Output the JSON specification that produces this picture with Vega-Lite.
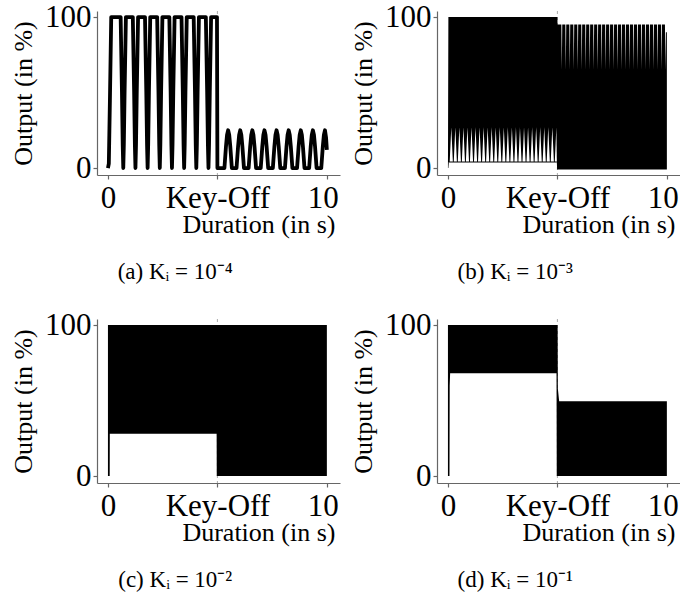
{
"$schema": "https://vega.github.io/schema/vega-lite/v6.json",
"background": "white",
"padding": {"left": 10, "top": 1, "right": 0, "bottom": 0},
"datasets": {
"a": [
{"t":0,"v":0},{"t":0.04,"v":3},{"t":0.09,"v":45},{"t":0.15,"v":100},
{"t":0.58,"v":100},{"t":0.64,"v":50},{"t":0.675,"v":15},{"t":0.70,"v":0},{"t":0.725,"v":15},{"t":0.76,"v":50},{"t":0.82,"v":100},
{"t":1.136,"v":100},{"t":1.196,"v":50},{"t":1.231,"v":15},{"t":1.256,"v":0},{"t":1.281,"v":15},{"t":1.316,"v":50},{"t":1.376,"v":100},
{"t":1.692,"v":100},{"t":1.752,"v":50},{"t":1.787,"v":15},{"t":1.812,"v":0},{"t":1.837,"v":15},{"t":1.872,"v":50},{"t":1.932,"v":100},
{"t":2.248,"v":100},{"t":2.308,"v":50},{"t":2.343,"v":15},{"t":2.368,"v":0},{"t":2.393,"v":15},{"t":2.428,"v":50},{"t":2.488,"v":100},
{"t":2.804,"v":100},{"t":2.864,"v":50},{"t":2.899,"v":15},{"t":2.924,"v":0},{"t":2.949,"v":15},{"t":2.984,"v":50},{"t":3.044,"v":100},
{"t":3.36,"v":100},{"t":3.42,"v":50},{"t":3.455,"v":15},{"t":3.48,"v":0},{"t":3.505,"v":15},{"t":3.54,"v":50},{"t":3.60,"v":100},
{"t":3.916,"v":100},{"t":3.976,"v":50},{"t":4.011,"v":15},{"t":4.036,"v":0},{"t":4.061,"v":15},{"t":4.096,"v":50},{"t":4.156,"v":100},
{"t":4.472,"v":100},{"t":4.532,"v":50},{"t":4.567,"v":15},{"t":4.592,"v":0},{"t":4.617,"v":15},{"t":4.652,"v":50},{"t":4.712,"v":100},
{"t":4.98,"v":100},{"t":5.0,"v":0},
{"t":5.32,"v":0},{"t":5.39,"v":14},{"t":5.44,"v":22},{"t":5.49,"v":25},{"t":5.54,"v":22},{"t":5.59,"v":14},{"t":5.66,"v":0},
{"t":5.873,"v":0},{"t":5.943,"v":14},{"t":5.993,"v":22},{"t":6.043,"v":25},{"t":6.093,"v":22},{"t":6.143,"v":14},{"t":6.213,"v":0},
{"t":6.426,"v":0},{"t":6.496,"v":14},{"t":6.546,"v":22},{"t":6.596,"v":25},{"t":6.646,"v":22},{"t":6.696,"v":14},{"t":6.766,"v":0},
{"t":6.979,"v":0},{"t":7.049,"v":14},{"t":7.099,"v":22},{"t":7.149,"v":25},{"t":7.199,"v":22},{"t":7.249,"v":14},{"t":7.319,"v":0},
{"t":7.532,"v":0},{"t":7.602,"v":14},{"t":7.652,"v":22},{"t":7.702,"v":25},{"t":7.752,"v":22},{"t":7.802,"v":14},{"t":7.872,"v":0},
{"t":8.085,"v":0},{"t":8.155,"v":14},{"t":8.205,"v":22},{"t":8.255,"v":25},{"t":8.305,"v":22},{"t":8.355,"v":14},{"t":8.425,"v":0},
{"t":8.638,"v":0},{"t":8.708,"v":14},{"t":8.758,"v":22},{"t":8.808,"v":25},{"t":8.858,"v":22},{"t":8.908,"v":14},{"t":8.978,"v":0},
{"t":9.191,"v":0},{"t":9.261,"v":14},{"t":9.311,"v":22},{"t":9.361,"v":25},{"t":9.411,"v":22},{"t":9.461,"v":14},{"t":9.531,"v":0},
{"t":9.744,"v":0},{"t":9.814,"v":14},{"t":9.864,"v":22},{"t":9.914,"v":25},{"t":9.964,"v":20},{"t":10.0,"v":12}
],
"b": [
{"t":0,"lo":0,"hi":1},{"t":0.02,"lo":0,"hi":100},{"t":0.04,"lo":4,"hi":100},{"t":0.08,"lo":4,"hi":100},{"t":0.152,"lo":27,"hi":100},
{"t":0.225,"lo":4,"hi":100},{"t":0.265,"lo":4,"hi":100},{"t":0.337,"lo":27,"hi":100},
{"t":0.409,"lo":4,"hi":100},{"t":0.449,"lo":4,"hi":100},{"t":0.521,"lo":27,"hi":100},
{"t":0.594,"lo":4,"hi":100},{"t":0.634,"lo":4,"hi":100},{"t":0.706,"lo":27,"hi":100},
{"t":0.778,"lo":4,"hi":100},{"t":0.818,"lo":4,"hi":100},{"t":0.890,"lo":27,"hi":100},
{"t":0.963,"lo":4,"hi":100},{"t":1.003,"lo":4,"hi":100},{"t":1.075,"lo":27,"hi":100},
{"t":1.148,"lo":4,"hi":100},{"t":1.188,"lo":4,"hi":100},{"t":1.260,"lo":27,"hi":100},
{"t":1.332,"lo":4,"hi":100},{"t":1.372,"lo":4,"hi":100},{"t":1.444,"lo":27,"hi":100},
{"t":1.517,"lo":4,"hi":100},{"t":1.557,"lo":4,"hi":100},{"t":1.629,"lo":27,"hi":100},
{"t":1.701,"lo":4,"hi":100},{"t":1.741,"lo":4,"hi":100},{"t":1.813,"lo":27,"hi":100},
{"t":1.886,"lo":4,"hi":100},{"t":1.926,"lo":4,"hi":100},{"t":1.998,"lo":27,"hi":100},
{"t":2.071,"lo":4,"hi":100},{"t":2.111,"lo":4,"hi":100},{"t":2.183,"lo":27,"hi":100},
{"t":2.255,"lo":4,"hi":100},{"t":2.295,"lo":4,"hi":100},{"t":2.367,"lo":27,"hi":100},
{"t":2.440,"lo":4,"hi":100},{"t":2.480,"lo":4,"hi":100},{"t":2.552,"lo":27,"hi":100},
{"t":2.624,"lo":4,"hi":100},{"t":2.664,"lo":4,"hi":100},{"t":2.736,"lo":27,"hi":100},
{"t":2.809,"lo":4,"hi":100},{"t":2.849,"lo":4,"hi":100},{"t":2.921,"lo":27,"hi":100},
{"t":2.994,"lo":4,"hi":100},{"t":3.034,"lo":4,"hi":100},{"t":3.106,"lo":27,"hi":100},
{"t":3.178,"lo":4,"hi":100},{"t":3.218,"lo":4,"hi":100},{"t":3.290,"lo":27,"hi":100},
{"t":3.363,"lo":4,"hi":100},{"t":3.403,"lo":4,"hi":100},{"t":3.475,"lo":27,"hi":100},
{"t":3.547,"lo":4,"hi":100},{"t":3.587,"lo":4,"hi":100},{"t":3.659,"lo":27,"hi":100},
{"t":3.732,"lo":4,"hi":100},{"t":3.772,"lo":4,"hi":100},{"t":3.844,"lo":27,"hi":100},
{"t":3.917,"lo":4,"hi":100},{"t":3.957,"lo":4,"hi":100},{"t":4.029,"lo":27,"hi":100},
{"t":4.101,"lo":4,"hi":100},{"t":4.141,"lo":4,"hi":100},{"t":4.213,"lo":27,"hi":100},
{"t":4.286,"lo":4,"hi":100},{"t":4.326,"lo":4,"hi":100},{"t":4.398,"lo":27,"hi":100},
{"t":4.470,"lo":4,"hi":100},{"t":4.510,"lo":4,"hi":100},{"t":4.582,"lo":27,"hi":100},
{"t":4.655,"lo":4,"hi":100},{"t":4.695,"lo":4,"hi":100},{"t":4.767,"lo":27,"hi":100},
{"t":4.840,"lo":4,"hi":100},{"t":4.880,"lo":4,"hi":100},{"t":4.952,"lo":27,"hi":100},
{"t":4.975,"lo":4,"hi":100},{"t":4.985,"lo":-1,"hi":100},{"t":5.0,"lo":-1,"hi":100},{"t":5.005,"lo":-1,"hi":95},
{"t":5.040,"lo":-1,"hi":95},{"t":5.180,"lo":-1,"hi":95},{"t":5.201,"lo":-1,"hi":65},
{"t":5.222,"lo":-1,"hi":95},{"t":5.362,"lo":-1,"hi":95},{"t":5.383,"lo":-1,"hi":65},
{"t":5.404,"lo":-1,"hi":95},{"t":5.544,"lo":-1,"hi":95},{"t":5.565,"lo":-1,"hi":65},
{"t":5.586,"lo":-1,"hi":95},{"t":5.726,"lo":-1,"hi":95},{"t":5.747,"lo":-1,"hi":65},
{"t":5.768,"lo":-1,"hi":95},{"t":5.908,"lo":-1,"hi":95},{"t":5.929,"lo":-1,"hi":65},
{"t":5.950,"lo":-1,"hi":95},{"t":6.090,"lo":-1,"hi":95},{"t":6.111,"lo":-1,"hi":65},
{"t":6.132,"lo":-1,"hi":95},{"t":6.272,"lo":-1,"hi":95},{"t":6.293,"lo":-1,"hi":65},
{"t":6.314,"lo":-1,"hi":95},{"t":6.454,"lo":-1,"hi":95},{"t":6.475,"lo":-1,"hi":65},
{"t":6.496,"lo":-1,"hi":95},{"t":6.636,"lo":-1,"hi":95},{"t":6.657,"lo":-1,"hi":65},
{"t":6.678,"lo":-1,"hi":95},{"t":6.818,"lo":-1,"hi":95},{"t":6.839,"lo":-1,"hi":65},
{"t":6.860,"lo":-1,"hi":95},{"t":7.000,"lo":-1,"hi":95},{"t":7.021,"lo":-1,"hi":65},
{"t":7.042,"lo":-1,"hi":95},{"t":7.182,"lo":-1,"hi":95},{"t":7.203,"lo":-1,"hi":65},
{"t":7.224,"lo":-1,"hi":95},{"t":7.364,"lo":-1,"hi":95},{"t":7.385,"lo":-1,"hi":65},
{"t":7.406,"lo":-1,"hi":95},{"t":7.546,"lo":-1,"hi":95},{"t":7.567,"lo":-1,"hi":65},
{"t":7.588,"lo":-1,"hi":95},{"t":7.728,"lo":-1,"hi":95},{"t":7.749,"lo":-1,"hi":65},
{"t":7.770,"lo":-1,"hi":95},{"t":7.910,"lo":-1,"hi":95},{"t":7.931,"lo":-1,"hi":65},
{"t":7.952,"lo":-1,"hi":95},{"t":8.092,"lo":-1,"hi":95},{"t":8.113,"lo":-1,"hi":65},
{"t":8.134,"lo":-1,"hi":95},{"t":8.274,"lo":-1,"hi":95},{"t":8.295,"lo":-1,"hi":65},
{"t":8.316,"lo":-1,"hi":95},{"t":8.456,"lo":-1,"hi":95},{"t":8.477,"lo":-1,"hi":65},
{"t":8.498,"lo":-1,"hi":95},{"t":8.638,"lo":-1,"hi":95},{"t":8.659,"lo":-1,"hi":65},
{"t":8.680,"lo":-1,"hi":95},{"t":8.820,"lo":-1,"hi":95},{"t":8.841,"lo":-1,"hi":65},
{"t":8.862,"lo":-1,"hi":95},{"t":9.002,"lo":-1,"hi":95},{"t":9.023,"lo":-1,"hi":65},
{"t":9.044,"lo":-1,"hi":95},{"t":9.184,"lo":-1,"hi":95},{"t":9.205,"lo":-1,"hi":65},
{"t":9.226,"lo":-1,"hi":95},{"t":9.366,"lo":-1,"hi":95},{"t":9.387,"lo":-1,"hi":65},
{"t":9.408,"lo":-1,"hi":95},{"t":9.548,"lo":-1,"hi":95},{"t":9.569,"lo":-1,"hi":65},
{"t":9.590,"lo":-1,"hi":95},{"t":9.730,"lo":-1,"hi":95},{"t":9.751,"lo":-1,"hi":65},
{"t":9.772,"lo":-1,"hi":95},{"t":9.912,"lo":-1,"hi":95},{"t":9.933,"lo":-1,"hi":65},
{"t":9.955,"lo":-1,"hi":90},{"t":10.0,"lo":-1,"hi":90}
],
"bbase": [{"t":0.04,"v":4},{"t":4.975,"v":4}],
"c": [
{"t":0,"lo":0,"hi":100},{"t":0.08,"lo":0,"hi":100},{"t":0.085,"lo":28,"hi":100},
{"t":4.965,"lo":28,"hi":100},{"t":4.97,"lo":0,"hi":100},{"t":10.0,"lo":0,"hi":100}
],
"d": [
{"t":0,"lo":0,"hi":100},{"t":0.07,"lo":0,"hi":100},{"t":0.08,"lo":60,"hi":100},{"t":0.1,"lo":68,"hi":100},
{"t":4.96,"lo":68,"hi":100},{"t":4.97,"lo":0,"hi":100},{"t":5.01,"lo":0,"hi":100},{"t":5.02,"lo":0,"hi":58},
{"t":5.08,"lo":0,"hi":49.5},{"t":10.0,"lo":0,"hi":49.5}
]
},
"columns": 2,
"spacing": {"row": 25, "column": 10},
"concat": [
{
"width": 243, "height": 164,
"title": {"text": "(a) Kᵢ = 10⁻⁴"},
"encoding": {"x": {"field": "t", "type": "quantitative", "scale": {"domain": [-0.5, 10.6], "nice": false, "zero": false}, "axis": {"values": [0, 5, 10], "labelExpr": "datum.value == 5 ? 'Key-Off' : datum.label", "title": "Duration (in s)"}}},
"layer": [
{"data": {"values": [{"t": 5}]}, "mark": {"type": "rule", "color": "#aaaaaa", "strokeDash": [3, 3], "strokeWidth": 1}, "encoding": {"x": {"field": "t", "type": "quantitative"}}},
{"data": {"name": "a"}, "mark": {"type": "line", "color": "black", "strokeWidth": 3.8, "strokeJoin": "round"}, "encoding": {"y": {"field": "v", "type": "quantitative", "scale": {"domain": [-4.6, 104], "nice": false, "zero": false}, "axis": {"values": [0, 100], "title": "Output (in %)"}}}}
]
},
{
"width": 243, "height": 164,
"title": {"text": "(b) Kᵢ = 10⁻³"},
"encoding": {"x": {"field": "t", "type": "quantitative", "scale": {"domain": [-0.5, 10.6], "nice": false, "zero": false}, "axis": {"values": [0, 5, 10], "labelExpr": "datum.value == 5 ? 'Key-Off' : datum.label", "title": "Duration (in s)"}}},
"layer": [
{"data": {"values": [{"t": 5}]}, "mark": {"type": "rule", "color": "#aaaaaa", "strokeDash": [3, 3], "strokeWidth": 1}, "encoding": {"x": {"field": "t", "type": "quantitative"}}},
{"data": {"name": "b"}, "mark": {"type": "area", "color": "black"}, "encoding": {"y": {"field": "lo", "type": "quantitative", "scale": {"domain": [-4.6, 104], "nice": false, "zero": false}, "axis": {"values": [0, 100], "title": "Output (in %)"}}, "y2": {"field": "hi"}}},
{"data": {"name": "bbase"}, "mark": {"type": "line", "color": "black", "strokeWidth": 1.2}, "encoding": {"y": {"field": "v", "type": "quantitative"}}}
]
},
{
"width": 243, "height": 164,
"title": {"text": "(c) Kᵢ = 10⁻²"},
"encoding": {"x": {"field": "t", "type": "quantitative", "scale": {"domain": [-0.5, 10.6], "nice": false, "zero": false}, "axis": {"values": [0, 5, 10], "labelExpr": "datum.value == 5 ? 'Key-Off' : datum.label", "title": "Duration (in s)"}}},
"layer": [
{"data": {"values": [{"t": 5}]}, "mark": {"type": "rule", "color": "#aaaaaa", "strokeDash": [3, 3], "strokeWidth": 1}, "encoding": {"x": {"field": "t", "type": "quantitative"}}},
{"data": {"name": "c"}, "mark": {"type": "area", "color": "black"}, "encoding": {"y": {"field": "lo", "type": "quantitative", "scale": {"domain": [-4.6, 104], "nice": false, "zero": false}, "axis": {"values": [0, 100], "title": "Output (in %)"}}, "y2": {"field": "hi"}}}
]
},
{
"width": 243, "height": 164,
"title": {"text": "(d) Kᵢ = 10⁻¹"},
"encoding": {"x": {"field": "t", "type": "quantitative", "scale": {"domain": [-0.5, 10.6], "nice": false, "zero": false}, "axis": {"values": [0, 5, 10], "labelExpr": "datum.value == 5 ? 'Key-Off' : datum.label", "title": "Duration (in s)"}}},
"layer": [
{"data": {"values": [{"t": 5}]}, "mark": {"type": "rule", "color": "#aaaaaa", "strokeDash": [3, 3], "strokeWidth": 1}, "encoding": {"x": {"field": "t", "type": "quantitative"}}},
{"data": {"name": "d"}, "mark": {"type": "area", "color": "black"}, "encoding": {"y": {"field": "lo", "type": "quantitative", "scale": {"domain": [-4.6, 104], "nice": false, "zero": false}, "axis": {"values": [0, 100], "title": "Output (in %)"}}, "y2": {"field": "hi"}}}
]
}
],
"config": {
"view": {"stroke": null},
"font": "Liberation Serif",
"axis": {"grid": false, "domainColor": "#666666", "domainWidth": 1.2, "tickColor": "#666666", "tickWidth": 1.2, "tickSize": 4, "labelFont": "Liberation Serif", "labelFontSize": 31, "labelColor": "black", "labelOverlap": false, "labelFlush": false, "titleFont": "Liberation Serif", "titleFontSize": 26, "titleFontWeight": "normal", "titleColor": "black"},
"axisX": {"labelPadding": 4, "titlePadding": -2, "titleX": 238, "titleAlign": "right", "labelOffset": {"condition": {"test": "datum.value == 10", "value": -4}, "value": 0}},
"axisY": {"labelPadding": 2, "titlePadding": 8},
"title": {"orient": "bottom", "frame": "bounds", "font": "Liberation Serif", "fontSize": 23, "fontWeight": "normal", "color": "black", "anchor": "middle", "offset": 24}
}
}
